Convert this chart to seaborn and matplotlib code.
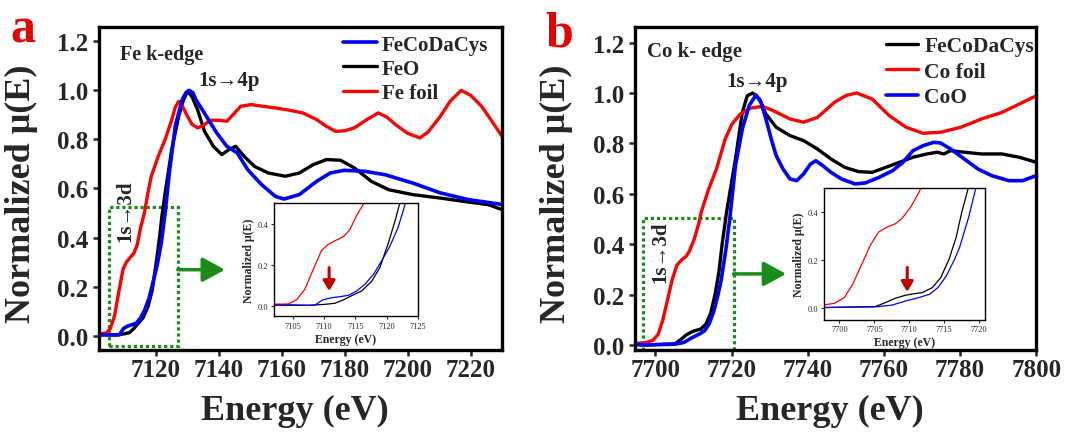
import numpy as np
import pandas as pd
import seaborn as sns
import matplotlib
matplotlib.use("Agg")
import matplotlib.pyplot as plt
from matplotlib.patches import Rectangle

# ---------------- data ----------------
# Panel a : Fe K-edge
fe_foil_x = [7102.0, 7104.3, 7105.6, 7106.9, 7108.3, 7109.6, 7110.7, 7111.7, 7113.1, 7114.1,
             7115.2, 7116.4, 7117.5, 7118.6, 7120.8, 7123.0, 7125.1, 7126.2, 7127.3, 7128.5,
             7130.1, 7131.5, 7133.3, 7135.0, 7137.2, 7140.0, 7142.6, 7144.5, 7147.0, 7150.3,
             7154.0, 7158.0, 7162.0, 7166.7, 7171.1, 7174.0, 7177.1, 7180.0, 7183.1, 7187.0,
             7190.7, 7193.5, 7196.2, 7200.0, 7203.9, 7206.5, 7210.4, 7213.5, 7217.0, 7220.0,
             7223.5, 7227.0, 7230.0]
fe_foil_y = [0.008, 0.010, 0.030, 0.080, 0.180, 0.270, 0.300, 0.316, 0.337, 0.370,
             0.440, 0.500, 0.580, 0.650, 0.731, 0.800, 0.880, 0.930, 0.955, 0.935,
             0.894, 0.862, 0.847, 0.855, 0.878, 0.878, 0.874, 0.900, 0.935, 0.942,
             0.935, 0.928, 0.920, 0.908, 0.881, 0.855, 0.833, 0.835, 0.847, 0.880,
             0.908, 0.890, 0.860, 0.825, 0.806, 0.830, 0.894, 0.955, 1.000, 0.980,
             0.935, 0.870, 0.813]

fe_cys_x = [7102.0, 7105.0, 7108.5, 7109.8, 7111.2, 7112.5, 7113.9, 7115.2, 7116.5, 7117.9,
            7119.2, 7120.5, 7121.8, 7123.0, 7124.3, 7126.2, 7128.4, 7129.6, 7130.6, 7131.8,
            7132.8, 7136.1, 7139.4, 7142.6, 7145.9, 7149.2, 7153.6, 7158.0, 7160.7, 7165.6,
            7171.1, 7175.4, 7179.8, 7186.4, 7192.9, 7201.7, 7210.4, 7219.2, 7230.0]
fe_cys_y = [0.003, 0.003, 0.004, 0.030, 0.040, 0.045, 0.052, 0.073, 0.105, 0.154,
            0.220, 0.290, 0.380, 0.500, 0.660, 0.853, 0.962, 0.990, 1.000, 0.990,
            0.962, 0.894, 0.826, 0.772, 0.745, 0.677, 0.616, 0.568, 0.557, 0.575,
            0.629, 0.663, 0.674, 0.670, 0.656, 0.622, 0.582, 0.555, 0.535]

feo_x = [7102.0, 7104.0, 7107.5, 7110.1, 7111.7, 7113.1, 7114.4, 7116.0, 7117.6, 7118.9,
         7120.3, 7121.3, 7122.0, 7123.0, 7125.1, 7127.3, 7128.8, 7130.1, 7131.5, 7133.3,
         7135.5, 7138.3, 7141.0, 7143.2, 7145.4, 7148.1, 7151.4, 7155.8, 7161.2, 7165.6,
         7170.0, 7174.3, 7178.7, 7183.1, 7188.5, 7194.0, 7201.7, 7210.4, 7219.2, 7225.7,
         7230.0]
feo_y = [0.008, 0.006, 0.003, 0.008, 0.013, 0.030, 0.050, 0.073, 0.120, 0.186,
         0.310, 0.410, 0.490, 0.582, 0.758, 0.894, 0.960, 0.996, 0.975, 0.921,
         0.833, 0.772, 0.738, 0.758, 0.772, 0.731, 0.690, 0.663, 0.650, 0.663,
         0.697, 0.718, 0.715, 0.684, 0.629, 0.595, 0.575, 0.561, 0.545, 0.534,
         0.514]

# Panel b : Co K-edge
co_foil_x = [7694.5, 7697.6, 7699.3, 7700.7, 7701.9, 7703.1, 7704.4, 7705.6, 7706.8, 7708.0,
             7708.9, 7710.2, 7711.4, 7712.0, 7713.8, 7716.0, 7718.3, 7720.1, 7722.3, 7725.0,
             7728.2, 7730.9, 7735.3, 7738.9, 7742.5, 7747.0, 7750.0, 7752.8, 7756.9, 7761.4,
             7765.8, 7770.3, 7774.8, 7780.2, 7785.6, 7791.0, 7795.5, 7800.0]
co_foil_y = [0.005, 0.010, 0.018, 0.042, 0.098, 0.175, 0.260, 0.316, 0.337, 0.351,
             0.372, 0.421, 0.484, 0.526, 0.612, 0.698, 0.817, 0.877, 0.917, 0.940,
             0.947, 0.930, 0.897, 0.884, 0.903, 0.963, 0.990, 1.000, 0.976, 0.910,
             0.864, 0.840, 0.844, 0.864, 0.897, 0.923, 0.956, 0.989]

co_cys_x = [7694.5, 7697.6, 7702.7, 7705.1, 7706.6, 7708.0, 7709.5, 7710.9, 7711.9, 7713.3,
            7714.5, 7715.7, 7716.7, 7717.5, 7718.7, 7721.0, 7722.8, 7724.1, 7725.5, 7727.3,
            7729.0, 7731.7, 7735.3, 7738.9, 7742.5, 7746.1, 7749.7, 7753.3, 7756.9, 7760.5,
            7764.1, 7767.6, 7771.3, 7774.0, 7775.7, 7777.5, 7781.1, 7785.6, 7791.0, 7795.5,
            7800.0]
co_cys_y = [0.002, 0.000, 0.003, 0.004, 0.021, 0.039, 0.052, 0.059, 0.063, 0.084,
            0.126, 0.204, 0.295, 0.400, 0.530, 0.738, 0.923, 0.989, 1.000, 0.976,
            0.917, 0.864, 0.831, 0.811, 0.778, 0.738, 0.705, 0.688, 0.685, 0.705,
            0.725, 0.745, 0.758, 0.765, 0.758, 0.771, 0.765, 0.758, 0.758, 0.745,
            0.725]

coo_x = [7694.5, 7697.6, 7705.1, 7707.5, 7709.5, 7711.4, 7712.9, 7714.1, 7715.3, 7716.5,
         7717.2, 7718.5, 7719.5, 7721.0, 7722.8, 7724.6, 7726.4, 7727.7, 7729.0, 7730.4,
         7731.7, 7733.5, 7735.3, 7737.1, 7738.9, 7740.7, 7742.1, 7743.9, 7746.1, 7748.8,
         7752.4, 7755.1, 7758.7, 7762.3, 7765.0, 7767.6, 7770.3, 7773.0, 7774.8, 7777.5,
         7781.1, 7784.7, 7788.3, 7792.8, 7796.4, 7800.0]
coo_y = [0.002, 0.000, 0.003, 0.010, 0.028, 0.042, 0.056, 0.084, 0.133, 0.204,
         0.253, 0.380, 0.500, 0.712, 0.857, 0.950, 0.992, 0.963, 0.897, 0.817,
         0.751, 0.698, 0.659, 0.652, 0.679, 0.718, 0.731, 0.712, 0.685, 0.659,
         0.639, 0.643, 0.665, 0.692, 0.725, 0.771, 0.791, 0.804, 0.802, 0.778,
         0.738, 0.698, 0.672, 0.652, 0.652, 0.672]

# tick labels / annotations
yticks_main = [0.0, 0.2, 0.4, 0.6, 0.8, 1.0, 1.2]
xticks_a = [7120, 7140, 7160, 7180, 7200, 7220]
xticks_b = [7700, 7720, 7740, 7760, 7780, 7800]
xticks_ins_a = [7105, 7110, 7115, 7120, 7125]
xticks_ins_b = [7700, 7705, 7710, 7715, 7720]
yticks_ins = [0.0, 0.2, 0.4]
box_a = [7105.2, 7127.0, -0.041, 0.526]      # x0, x1, y0, y1 of dotted zoom box
box_b = [7696.7, 7720.5, -0.019, 0.504]
arrow_a = [7127.0, 7142.0, 0.269]            # x start, x end, y
arrow_b = [7720.5, 7734.3, 0.282]
mark_a = [7110.8, 0.186, 0.073]              # inset arrow x, y start, y end
mark_b = [7709.7, 0.168, 0.066]

BLUE, BLACK, RED = "#0000ff", "#000000", "#ff0000"
GREEN = "#1a8c1a"

sns.set_style("ticks")
plt.rcParams["font.family"] = ["Liberation Serif", "DejaVu Serif"]
plt.rcParams["font.weight"] = "normal"

fig = plt.figure(figsize=(10.67, 4.35), dpi=100)
ax_a = fig.add_axes([0.0928, 0.192, 0.3777, 0.7425])
ax_b = fig.add_axes([0.5947, 0.192, 0.3765, 0.7425])


def line(ax, x, y, color, lw):
    sns.lineplot(x=x, y=y, ax=ax, color=color, lw=lw, estimator=None, sort=False,
                 legend=False)
    return ax.lines[-1]


def style_main(ax, xticks, xlim, ylim):
    ax.set_xlim(*xlim)
    ax.set_ylim(*ylim)
    ax.set_xticks(xticks, labels=[str(t) for t in xticks], fontsize=18, fontweight="bold")
    ax.set_yticks(yticks_main, labels=[f"{t:.1f}" for t in yticks_main], fontsize=18,
                  fontweight="bold")
    for s in ax.spines.values():
        s.set_linewidth(2.4)
        s.set_color("black")
    ax.tick_params(axis="both", direction="out", length=4.5, width=1.8,
                   top=False, right=False)
    ax.tick_params(axis="x", pad=1)
    ax.tick_params(axis="y", pad=3)
    ax.set_xlabel("Energy (eV)", fontsize=26, fontweight="bold")
    ax.set_ylabel("Normalized μ(E)", fontsize=26, fontweight="bold")
    ax.xaxis.set_label_coords(0.485, -0.135)
    ax.yaxis.set_label_coords(-0.152, 0.487)


def style_inset(ax, xticks, xlim, fs):
    ax.set_xlim(*xlim)
    ax.set_ylim(-0.05, 0.5)
    ax.set_xticks(xticks, labels=[str(t) for t in xticks], fontsize=6)
    ax.set_yticks(yticks_ins, labels=[f"{t:.1f}" for t in yticks_ins], fontsize=6)
    for s in ax.spines.values():
        s.set_linewidth(1.0)
        s.set_color("black")
    ax.tick_params(direction="out", length=2.5, width=0.8, pad=1.5, top=False, right=False)
    ax.set_xlabel("Energy (eV)", fontsize=8.5, fontweight="bold", labelpad=2)
    ax.set_ylabel("Normalized μ(E)", fontsize=8.5, fontweight="bold", labelpad=2)
    ax.set_facecolor("white")


def zoom_box(ax, box, arrow, ann_x, ann_y, rotate_y):
    x0, x1, y0, y1 = box
    ax.add_patch(Rectangle((x0, y0), x1 - x0, y1 - y0, fill=False, edgecolor=GREEN,
                           lw=2.3, linestyle=(0, (1, 0.9)), zorder=1))
    ax.annotate("", xy=(arrow[1], arrow[2]), xytext=(arrow[0], arrow[2]),
                arrowprops=dict(arrowstyle="-|>,head_length=0.55,head_width=0.3",
                                color=GREEN, lw=2.5, mutation_scale=25,
                                shrinkA=0, shrinkB=0))
    ax.text(ann_x, ann_y, "1s→3d", rotation=90, ha="center", va="center",
            fontsize=15, fontweight="bold", zorder=6)


# ---------------- panel a ----------------
l_feo = line(ax_a, feo_x, feo_y, BLACK, 2.4)
l_fefoil = line(ax_a, fe_foil_x, fe_foil_y, RED, 2.4)
l_fecys = line(ax_a, fe_cys_x, fe_cys_y, BLUE, 2.6)
style_main(ax_a, xticks_a, (7102, 7230), (-0.06, 1.256))
zoom_box(ax_a, box_a, arrow_a, 7110.4, 0.51, True)
ax_a.text(0.053, 0.918, "Fe k-edge", transform=ax_a.transAxes, fontsize=14.5,
          fontweight="bold", ha="left", va="center")
ax_a.text(7133.6, 1.042, "1s→4p", fontsize=15, fontweight="bold", ha="left", va="center")
ax_a.legend(handles=[l_fecys, l_feo, l_fefoil], labels=["FeCoDaCys", "FeO", "Fe foil"],
            loc="upper left", bbox_to_anchor=(0.606, 0.978), frameon=False,
            borderpad=0, borderaxespad=0, handlelength=1.6, handletextpad=0.25,
            labelspacing=0.2, prop={"weight": "bold", "size": 15})

ins_a = fig.add_axes([0.2568, 0.2706, 0.135, 0.2605])
ins_a.set_zorder(5)
line(ins_a, feo_x, feo_y, BLACK, 0.9)
line(ins_a, fe_foil_x, fe_foil_y, RED, 0.9)
line(ins_a, fe_cys_x, fe_cys_y, BLUE, 0.9)
style_inset(ins_a, xticks_ins_a, (7102, 7125), 8.5)
ins_a.annotate("", xy=(mark_a[0], mark_a[2]), xytext=(mark_a[0], mark_a[1]),
               arrowprops=dict(arrowstyle="-|>,head_length=0.5,head_width=0.3",
                               color="#c00000", lw=2.2, mutation_scale=12,
                               shrinkA=0, shrinkB=0))

# ---------------- panel b ----------------
l_cocys = line(ax_b, co_cys_x, co_cys_y, BLACK, 2.4)
l_cofoil = line(ax_b, co_foil_x, co_foil_y, RED, 2.4)
l_coo = line(ax_b, coo_x, coo_y, BLUE, 2.6)
style_main(ax_b, xticks_b, (7694.5, 7800), (-0.022, 1.26))
zoom_box(ax_b, box_b, arrow_b, 7701.2, 0.371, True)
ax_b.text(0.030, 0.926, "Co k- edge", transform=ax_b.transAxes, fontsize=15,
          fontweight="bold", ha="left", va="center")
ax_b.text(7718.5, 1.049, "1s→4p", fontsize=15, fontweight="bold", ha="left", va="center")
ax_b.legend(handles=[l_cocys, l_cofoil, l_coo], labels=["FeCoDaCys", "Co foil", "CoO"],
            loc="upper left", bbox_to_anchor=(0.626, 0.973), frameon=False,
            borderpad=0, borderaxespad=0, handlelength=1.5, handletextpad=0.28,
            labelspacing=0.25, prop={"weight": "bold", "size": 15.5})

ins_b = fig.add_axes([0.7723, 0.2632, 0.1507, 0.3018])
ins_b.set_zorder(5)
line(ins_b, co_cys_x, co_cys_y, BLACK, 0.9)
line(ins_b, co_foil_x, co_foil_y, RED, 0.9)
line(ins_b, coo_x, coo_y, BLUE, 0.9)
style_inset(ins_b, xticks_ins_b, (7697.8, 7720.8), 9)
ins_b.annotate("", xy=(mark_b[0], mark_b[2]), xytext=(mark_b[0], mark_b[1]),
               arrowprops=dict(arrowstyle="-|>,head_length=0.5,head_width=0.3",
                               color="#c00000", lw=2.2, mutation_scale=12,
                               shrinkA=0, shrinkB=0))

# panel letters
fig.text(0.0097, 0.9034, "a", color="#e60000", fontsize=36, fontweight="bold", va="baseline")
fig.text(0.5112, 0.894, "b", color="#e60000", fontsize=36, fontweight="bold", va="baseline")

fig.savefig("out.png", dpi=100)
